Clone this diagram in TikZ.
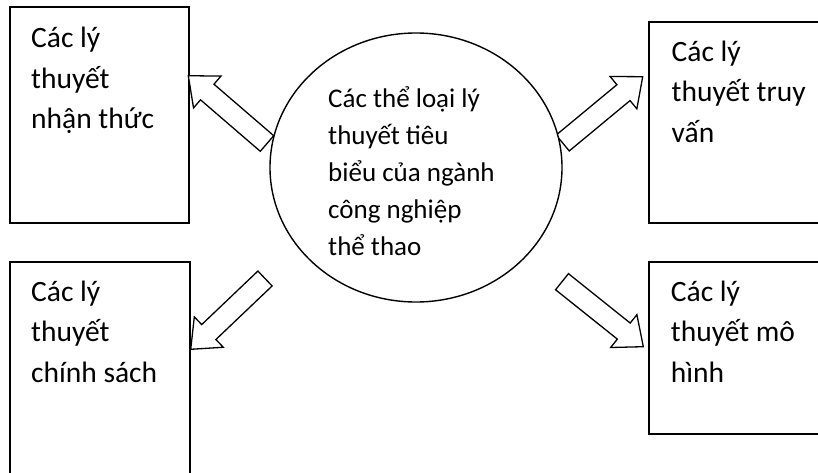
\documentclass[tikz,border=0pt]{standalone}
\usepackage{fontspec}
\setmainfont{Carlito}
\usetikzlibrary{calc,shapes.geometric}

\tikzset{
  frame/.style={draw=black, line width=1.6pt},
  blockarrow/.style={draw=black, line width=1.3pt, fill=white, line join=miter},
  hub/.style={draw=black, line width=1.4pt, fill=white, ellipse,
    minimum width=292pt, minimum height=269pt, inner sep=0pt},
  % multi-line labels are placed by the baseline of their last line
  boxtext/.style={anchor=base west, inner sep=0pt, align=left,
    font=\fontsize{29.5}{40.5}\selectfont},
  hubtext/.style={anchor=base west, inner sep=0pt, align=left,
    font=\fontsize{27}{37}\selectfont},
}

% block arrow dimensions
\newcommand\shaftw{10.3pt}
\newcommand\headw{21pt}
\newcommand\headl{25pt}
% #1 name, #2 tail centre, #3 tip
\newcommand\drawblockarrow[3]{%
  \coordinate (#1-neck) at ($(#3)!\headl!(#2)$);
  \draw[blockarrow]
    ($(#2)!\shaftw!90:(#3)$) -- ($(#1-neck)!\shaftw!90:(#3)$)
    -- ($(#1-neck)!\headw!90:(#3)$) -- (#3)
    -- ($(#1-neck)!\headw!-90:(#3)$) -- ($(#1-neck)!\shaftw!-90:(#3)$)
    -- ($(#2)!\shaftw!-90:(#3)$) -- cycle;
}

\begin{document}
\begin{tikzpicture}[x=1pt, y=-1pt]
  \useasboundingbox (0,0) rectangle (818,472);
  \clip (0,0) rectangle (818,472);
  \fill[white] (0,0) rectangle (818,472);

  % the four theory boxes
  \draw[frame] (10,7) rectangle (189,223);
  \draw[frame] (649,22) rectangle (840,223);
  \draw[frame] (10,262) rectangle (190,490);
  \draw[frame] (649,262) rectangle (840,434);

  % arrow end points
  \coordinate (tl-tail) at (267,143.5);
  \coordinate (tl-tip)  at (188.3,75.7);
  \coordinate (tr-tail) at (562.7,143);
  \coordinate (tr-tip)  at (642.7,76.7);
  \coordinate (bl-tail) at (265,278.5);
  \coordinate (bl-tip)  at (190.7,349.3);
  \coordinate (br-tail) at (562,281.7);
  \coordinate (br-tip)  at (643.3,346.7);

  \drawblockarrow{tl}{tl-tail}{tl-tip}
  \drawblockarrow{tr}{tr-tail}{tr-tip}
  \drawblockarrow{bl}{bl-tail}{bl-tip}
  \drawblockarrow{br}{br-tail}{br-tip}

  % central ellipse
  \node[hub] (hub) at (416,167.5) {};
  \node[hubtext] (hub-text) at (328,255)
    {Các thể loại lý\\thuyết tiêu\\biểu của ngành\\công nghiệp\\thể thao};

  % box labels
  \node[boxtext] (tl-text) at (31,128.5) {Các lý\\thuyết\\nhận thức};
  \node[boxtext] (tr-text) at (671.5,142) {Các lý\\thuyết truy\\vấn};
  \node[boxtext] (bl-text) at (31,382) {Các lý\\thuyết\\chính sách};
  \node[boxtext] (br-text) at (670.7,382) {Các lý\\thuyết mô\\hình};
\end{tikzpicture}
\end{document}
